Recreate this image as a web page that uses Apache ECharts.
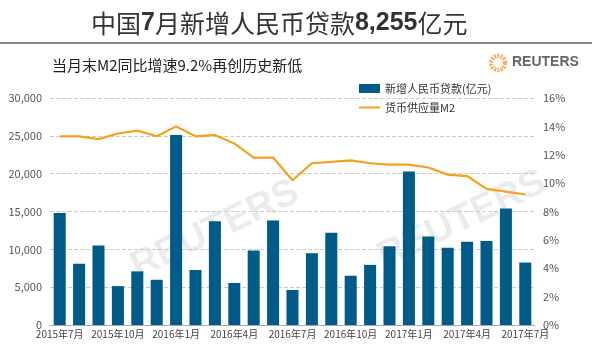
<!DOCTYPE html>
<html>
<head>
<meta charset="utf-8">
<script src="https://cdn.jsdelivr.net/npm/echarts@6/dist/echarts.min.js"></script>
<style>
  html, body { margin: 0; padding: 0; background: #fff; }
  #chart { width: 594px; height: 353px; }
</style>
</head>
<body>
<div id="chart"></div>
<script>
// 月份（2015年7月 - 2017年7月）
const months = [
  '2015年7月', '2015年8月', '2015年9月', '2015年10月', '2015年11月', '2015年12月',
  '2016年1月', '2016年2月', '2016年3月', '2016年4月', '2016年5月', '2016年6月',
  '2016年7月', '2016年8月', '2016年9月', '2016年10月', '2016年11月', '2016年12月',
  '2017年1月', '2017年2月', '2017年3月', '2017年4月', '2017年5月', '2017年6月',
  '2017年7月'
];
// 新增人民币贷款(亿元)
const loans = [
  14800, 8096, 10500, 5136, 7089, 5978,
  25100, 7266, 13700, 5556, 9855, 13800,
  4636, 9487, 12200, 6513, 7946, 10400,
  20300, 11700, 10200, 11000, 11100, 15400,
  8255
];
// 货币供应量M2 同比(%)
const m2 = [
  13.3, 13.3, 13.1, 13.5, 13.7, 13.3,
  14.0, 13.3, 13.4, 12.8, 11.8, 11.8,
  10.2, 11.4, 11.5, 11.6, 11.4, 11.3,
  11.3, 11.1, 10.6, 10.5, 9.6, 9.4,
  9.2
];

const font = '"Noto Sans CJK SC", "Noto Sans", sans-serif';
const latin = 'Arial, "Liberation Sans", sans-serif';
const chart = echarts.init(document.getElementById('chart'));

chart.setOption({
  animation: false,
  textStyle: { fontFamily: font },
  title: [
    {
      text: '{n|中国}{b|7}{n|月新增人民币贷款}{b|8,255}{n|亿元}',
      left: 86,
      top: 6,
      textStyle: {
        rich: {
          n: { fontSize: 25, color: '#333', fontWeight: 'normal', fontFamily: font },
          b: { fontSize: 25, color: '#333', fontWeight: 'bold', fontFamily: latin }
        }
      }
    },
    {
      text: '当月末M2同比增速9.2%再创历史新低',
      left: 47,
      top: 53,
      textStyle: { fontSize: 15, color: '#222', fontWeight: 'normal' }
    }
  ],
  graphic: [
    // 标题下横线
    { type: 'line', shape: { x1: 0, y1: 43, x2: 592, y2: 43 }, style: { stroke: '#666', lineWidth: 1.3 } },
    // 路透标志
    { type: 'circle', shape: { cx: 498, cy: 63, r: 7 },
      style: { fill: 'none', stroke: '#f2a64a', lineWidth: 4.5, lineDash: [2, 1.2], opacity: 0.85 } },
    { type: 'text', left: 512, top: 55, style: { text: 'REUTERS', fill: '#666', font: 'bold 14px ' + latin } },
    // 水印
    { type: 'text', x: 125, y: 252, rotation: Math.PI / 7, z: 0,
      style: { text: 'REUTERS', fill: 'rgba(0,0,0,0.08)', font: 'bold 38px ' + latin } },
    { type: 'text', x: 372, y: 242, rotation: Math.PI / 7, z: 0,
      style: { text: 'REUTERS', fill: 'rgba(0,0,0,0.08)', font: 'bold 38px ' + latin } }
  ],
  legend: {
    orient: 'vertical',
    left: 354,
    top: 78,
    itemWidth: 21,
    itemHeight: 9,
    itemGap: 8,
    textStyle: { fontSize: 11, color: '#333' },
    data: [
      { name: '新增人民币贷款(亿元)', icon: 'rect' },
      { name: '货币供应量M2', icon: 'path://M0 0 H21 V2 H0 Z' }
    ]
  },
  grid: { left: 50, right: 59, top: 98, bottom: 28 },
  xAxis: {
    type: 'category',
    data: months,
    axisLine: { lineStyle: { color: '#aaa' } },
    axisTick: { show: false },
    axisLabel: { interval: 2, color: '#444', fontSize: 10, margin: 4 }
  },
  yAxis: [
    {
      type: 'value',
      min: 0,
      max: 30000,
      interval: 5000,
      axisLine: { show: false },
      axisTick: { show: false },
      axisLabel: {
        color: '#555',
        fontSize: 11,
        formatter: (v) => v.toLocaleString('en-US')
      },
      splitLine: { lineStyle: { type: 'dashed', color: '#ccc' } }
    },
    {
      type: 'value',
      min: 0,
      max: 16,
      interval: 2,
      axisLine: { show: false },
      axisTick: { show: false },
      axisLabel: { color: '#555', fontSize: 11, formatter: '{value}%' },
      splitLine: { show: false }
    }
  ],
  series: [
    {
      name: '新增人民币贷款(亿元)',
      type: 'bar',
      data: loans,
      barWidth: '62%',
      itemStyle: { color: '#005b88' }
    },
    {
      name: '货币供应量M2',
      type: 'line',
      yAxisIndex: 1,
      data: m2,
      symbol: 'none',
      lineStyle: { color: '#f5a01e', width: 2.2 },
      itemStyle: { color: '#f5a01e' }
    }
  ]
});
</script>
</body>
</html>
